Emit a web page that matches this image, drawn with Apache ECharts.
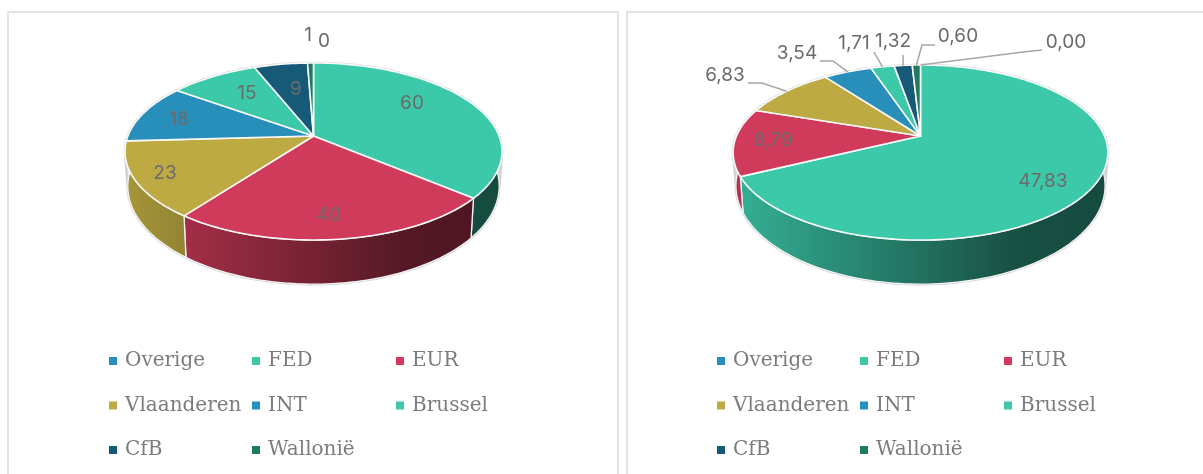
<!DOCTYPE html>
<html>
<head>
<meta charset="utf-8">
<style>html,body{margin:0;padding:0;background:#fff}#c{width:1203px;height:474px}</style>
<script src="https://cdn.jsdelivr.net/npm/echarts@6/dist/echarts.min.js"></script>
</head>
<body>
<div id="c"></div>
<script>
const categories = ['Overige','FED','EUR','Vlaanderen','INT','Brussel','CfB','Wallonië'];
const leftValues = [0,60,40,23,18,15,9,1];
const rightValues = [0.00,47.83,8.79,6.83,3.54,1.71,1.32,0.60];
const sliceColors = ['#288fbb','#3cc9a9','#d13b5b','#bdaa42','#288fbb','#3cc9a9','#175a77','#1f7a60'];

const legendColumns = [['Overige','Vlaanderen','CfB'],['FED','INT','Wallonië'],['EUR','Brussel']];

const leftGeom = {cx:313.5,cy:136,A:185.6,B:85.8,k:0.175,s:0.985,d:33,B2:95};
const rightGeom = {cx:920.5,cy:136,A:184,B:84.4,k:0.189,s:0.985,d:31,B2:95};
const leftLabelAt = [[324,41],[412,103],[329,215],[165,173],[179,119],[247,93],[296,89],[308,35]];
const rightLabelAt = [[1066,42],[1043,181],[773,140],[725,75],[797,53],[854,43],[893,41],[958,36]];
const rightLeaders = [
  [[1042,50],[1023,52]],null,null,
  [[748,83],[762,83]],
  [[820,61],[833,61]],
  [[874,52]],
  [[903,55]],
  [[935,45],[922,45]]
];
const labelFont = '19px Inter, Lato, sans-serif';
const labelColor = '#6b6b6b';

function shade(hex,f){
  const n=parseInt(hex.slice(1),16);
  const c=[(n>>16)&255,(n>>8)&255,n&255].map(x=>Math.round(x*f));
  return 'rgb('+c.join(',')+')';
}
function topPt(g,deg){
  const a=deg*Math.PI/180,u=Math.sin(a),v=-Math.cos(a),w=1-g.k*v;
  return [g.cx+g.A*u/w,g.cy+g.B*v/w];
}
function botPt(g,deg){
  const a=deg*Math.PI/180,u=Math.sin(a),v=-Math.cos(a),w=1-g.k*v;
  return [g.cx+g.s*g.A*u/w,g.cy+g.d+g.B2*v/w];
}
function arc(fn,g,a0,a1){
  const n=Math.max(2,Math.ceil(Math.abs(a1-a0)/1.5)),pts=[];
  for(let i=0;i<=n;i++)pts.push(fn(g,a0+(a1-a0)*i/n));
  return pts;
}
function sideFill(g,color){
  const half=g.A*1.02;
  return new echarts.graphic.LinearGradient(g.cx-half,0,g.cx+half,0,[
    {offset:0,color:shade(color,0.88)},
    {offset:0.75,color:shade(color,0.40)},
    {offset:1,color:shade(color,0.37)}
  ],true);
}
function buildPie(values,g,labelAt,fmt,leaders){
  const total=values.reduce((a,b)=>a+b,0);
  const out=[];
  out.push({
    type:'custom',name:'rim',coordinateSystem:'none',silent:true,animation:false,data:[[total]],
    renderItem:function(){
      const style={fill:'none',stroke:'#d2d2d2',lineWidth:2.6};
      const t=arc(topPt,g,0,360),b=arc(botPt,g,0,360);
      let lx=0,rx=0;
      t.forEach((p,i)=>{if(p[0]<t[lx][0])lx=i;if(p[0]>t[rx][0])rx=i;});
      let blx=0,brx=0;
      b.forEach((p,i)=>{if(p[0]<b[blx][0])blx=i;if(p[0]>b[brx][0])brx=i;});
      return {type:'group',children:[
        {type:'polygon',z2:0,shape:{points:t},style:style},
        {type:'polygon',z2:0,shape:{points:b},style:style},
        {type:'polyline',z2:0,shape:{points:[t[lx],b[blx]]},style:style},
        {type:'polyline',z2:0,shape:{points:[t[rx],b[brx]]},style:style}
      ]};
    }
  });
  let cum=0;
  values.forEach((val,i)=>{
    const startV=cum;cum+=val;
    const color=sliceColors[i];
    out.push({
      type:'custom',name:categories[i],coordinateSystem:'none',silent:true,animation:false,
      itemStyle:{color:color},data:[[val]],
      renderItem:function(params,api){
        const v=api.value(0);
        const a0=startV/total*360,a1=(startV+v)/total*360,mid=(a0+a1)/2;
        const children=[];
        if(v>0){
          const T=arc(topPt,g,a0,a1),B=arc(botPt,g,a0,a1).reverse();
          children.push({type:'polygon',z2:1,shape:{points:T.concat(B)},
            style:{fill:sideFill(g,color),stroke:'#f4f4f4',lineWidth:1.3,lineJoin:'round'}});
          children.push({type:'polygon',z2:2,shape:{points:[[g.cx,g.cy]].concat(T)},
            style:{fill:color,stroke:'#f8f8f8',lineWidth:1.6,lineJoin:'round'}});
        }
        const lead=leaders&&leaders[i];
        if(lead){
          children.push({type:'polyline',z2:3,shape:{points:lead.concat([topPt(g,mid)])},
            style:{fill:'none',stroke:'#a6a6a6',lineWidth:1.5}});
        }
        children.push({type:'text',z2:4,x:labelAt[i][0],y:labelAt[i][1],
          style:{text:fmt(v),fill:labelColor,font:labelFont,align:'center',verticalAlign:'middle'}});
        return {type:'group',children:children};
      }
    });
  });
  return out;
}
const legendSymbolX = [[109,252,396],[717,860,1004]];
const legends=[];
legendSymbolX.forEach(xs=>{
  xs.forEach((x,ci)=>{
    legends.push({
      orient:'vertical',left:x,top:349,padding:0,itemWidth:8,itemHeight:8,itemGap:20.5,
      selectedMode:false,icon:'rect',
      data:legendColumns[ci].map(n=>({name:n,icon:'rect'})),
      textStyle:{fontFamily:'"DejaVu Serif", serif',fontSize:20,color:'#7c7c7c',lineHeight:24,padding:[0,0,0,3]}
    });
  });
});
const panelStroke={stroke:'#e2e2e2',lineWidth:2};
const chart=echarts.init(document.getElementById('c'),null,{renderer:'canvas'});
chart.setOption({
  animation:false,
  backgroundColor:'#ffffff',
  legend:legends,
  graphic:[
    {type:'polyline',silent:true,shape:{points:[[8,474],[8,12],[618,12],[618,474]]},style:Object.assign({fill:'none'},panelStroke)},
    {type:'polyline',silent:true,shape:{points:[[627,474],[627,12],[1203,12]]},style:Object.assign({fill:'none'},panelStroke)}
  ],
  series:[].concat(
    buildPie(leftValues,leftGeom,leftLabelAt,v=>String(v),null),
    buildPie(rightValues,rightGeom,rightLabelAt,v=>v.toFixed(2).replace('.',','),rightLeaders)
  )
});
</script>
</body>
</html>
